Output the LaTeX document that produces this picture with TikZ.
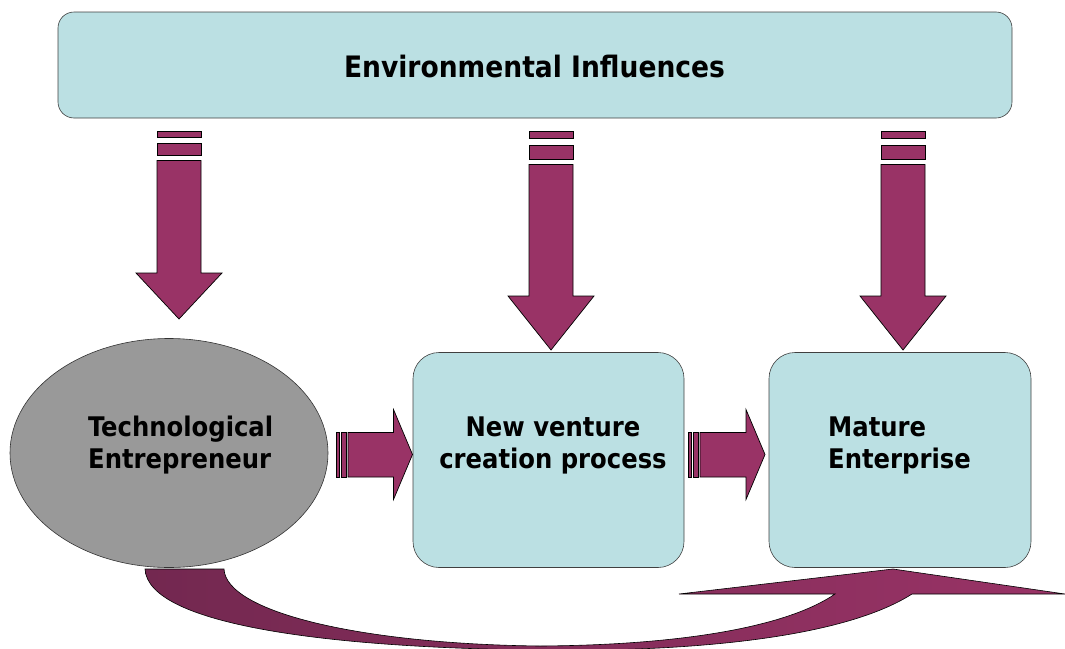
\documentclass[tikz,border=0pt]{standalone}
\usepackage{fontspec}
\setmainfont{DejaVu Sans Condensed}
\usetikzlibrary{positioning, shapes.geometric, calc}

\definecolor{boxfill}{HTML}{BBE0E3}
\definecolor{plum}{HTML}{993366}
\definecolor{darkplum}{HTML}{732850}
\definecolor{entgray}{HTML}{999999}

\begin{document}
\begin{tikzpicture}[
    x=1pt, y=-1pt,
    box/.style={rectangle, draw=black!75, fill=boxfill, rounded corners=26pt, line width=0.6pt},
    lbl/.style={font=\bfseries\fontsize{27}{31.5}\selectfont, inner sep=0pt},
    blk/.style={draw=black, fill=plum, line width=0.7pt}
]
\useasboundingbox (0,0) rectangle (1065,648);

% Environment
\node[box, rounded corners=16pt, minimum width=954pt, minimum height=106pt] (env) at (535,65) {};
\node[lbl, font=\bfseries\fontsize{29.5}{32}\selectfont, anchor=base] (envlbl) at (534.5,77) {Environmental Influences};

% Entrepreneur
\node[ellipse, draw=black!80, fill=entgray, line width=0.6pt, minimum width=318pt, minimum height=229pt] (ent) at (169,453) {};
\node[lbl, anchor=base west, align=left] (entlbl) at (88,468) {Technological\\Entrepreneur};

% Venture creation
\node[box, minimum width=271pt, minimum height=215pt] (venture) at (548.5,460) {};
\node[lbl, anchor=base, align=center] (venturelbl) at (553,468) {New venture\\creation process};

% Mature enterprise
\node[box, minimum width=262pt, minimum height=215pt] (mature) at (900,460) {};
\node[lbl, anchor=base west, align=left] (maturelbl) at (828,468) {Mature\\Enterprise};

% Downward block arrows
\foreach \cx/\sa/\sb/\sc/\hd/\tp in {179/137/143/155/273/319, 551/138/145.5/159/296/350, 903/138/145.5/159/296/350}{
  \draw[blk] (\cx-22,131.5) rectangle (\cx+22,\sa);
  \draw[blk] (\cx-22,\sb) rectangle (\cx+22,\sc);
  \draw[blk] (\cx-22,\sc+5.5) -- (\cx+22,\sc+5.5) -- (\cx+22,\hd) -- (\cx+43,\hd)
    -- (\cx,\tp) -- (\cx-43,\hd) -- (\cx-22,\hd) -- cycle;
}

% Rightward block arrows
\foreach \lx/\tx in {336/412.5, 688/765}{
  \draw[blk] (\lx,432.5) rectangle (\lx+3,477);
  \draw[blk] (\lx+5,432.5) rectangle (\lx+10,477);
  \draw[blk] (\lx+12,432.5) -- (\tx-19,432.5) -- (\tx-19,409.5) -- (\tx,454.5)
    -- (\tx-19,499.5) -- (\tx-19,477) -- (\lx+12,477) -- cycle;
}

% Feedback arrow
\draw[draw=black, line width=0.6pt, left color=darkplum, right color=plum]
  (145,569) -- (224,569)
  .. controls (226,612) and (360,644) .. (540,646)
  .. controls (690,645) and (790,625) .. (835,594)
  -- (679,594) -- (893,569) -- (1065,594) -- (912,594)
  .. controls (840,640) and (680,652) .. (540,650)
  .. controls (330,648) and (148,625) .. cycle;

\end{tikzpicture}
\end{document}
